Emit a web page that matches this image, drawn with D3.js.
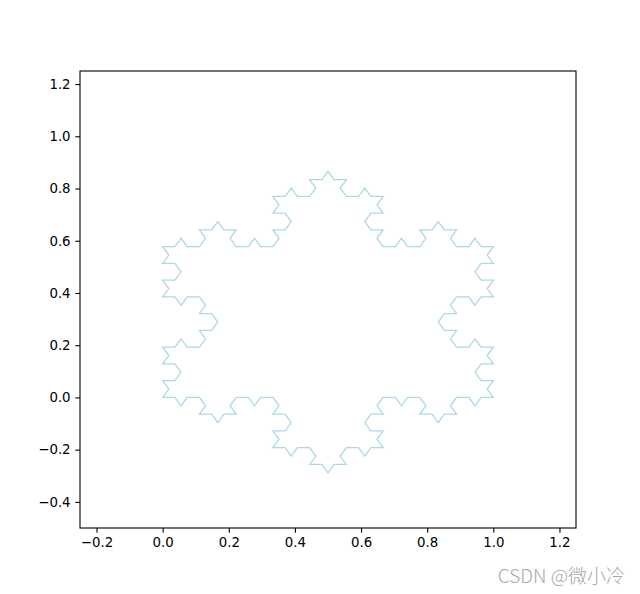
<!DOCTYPE html>
<html>
<head>
<meta charset="utf-8">
<script src="https://cdn.jsdelivr.net/npm/d3@7"></script>
<style>
  body { margin: 0; background: #fff; }
  svg { display: block; }
  .tick text { font-family: "DejaVu Sans", sans-serif; font-size: 13.33px; fill: #000; }
</style>
</head>
<body>
<div id="chart"></div>
<script>
// starting triangle (clockwise) and recursion depth of the Koch snowflake
const baseTriangle = [[0, 0], [0.5, Math.sqrt(3) / 2], [1, 0], [0, 0]];
const kochDepth = 3;
const xTicks = [-0.2, 0.0, 0.2, 0.4, 0.6, 0.8, 1.0, 1.2];
const yTicks = [-0.4, -0.2, 0.0, 0.2, 0.4, 0.6, 0.8, 1.0, 1.2];
const xDomain = [-0.25, 1.25];
const yDomain = [-0.5, 1.25];

function koch(a, b, n) {
    if (n === 0) return [a];
    const dx = (b[0] - a[0]) / 3, dy = (b[1] - a[1]) / 3;
    const p1 = [a[0] + dx, a[1] + dy];
    const p2 = [a[0] + 2 * dx, a[1] + 2 * dy];
    const c = Math.cos(Math.PI / 3), s = Math.sin(Math.PI / 3);
    const peak = [p1[0] + dx * c - dy * s, p1[1] + dx * s + dy * c];
    return [].concat(koch(a, p1, n - 1), koch(p1, peak, n - 1), koch(peak, p2, n - 1), koch(p2, b, n - 1));
}

let points = [];
for (let i = 0; i < baseTriangle.length - 1; i++) {
    points = points.concat(koch(baseTriangle[i], baseTriangle[i + 1], kochDepth));
}
points.push(baseTriangle[baseTriangle.length - 1]);

const width = 640, height = 594;
const margin = { top: 71, right: 64, bottom: 66, left: 80 };

const svg = d3.select("#chart").append("svg")
    .attr("width", width)
    .attr("height", height);

const x = d3.scaleLinear().domain(xDomain).range([margin.left, width - margin.right]);
const y = d3.scaleLinear().domain(yDomain).range([height - margin.bottom, margin.top]);

svg.append("path")
    .datum(points)
    .attr("fill", "none")
    .attr("stroke", "#add8e6")
    .attr("stroke-width", 1.3)
    .attr("stroke-linejoin", "miter")
    .attr("d", d3.line().x(d => x(d[0])).y(d => y(d[1])));

const fmt = d => d < 0 ? "\u2212" + Math.abs(d).toFixed(1) : d.toFixed(1);

const xAxis = svg.append("g")
    .attr("transform", `translate(0,${height - margin.bottom})`)
    .call(d3.axisBottom(x).tickValues(xTicks).tickFormat(fmt).tickSizeOuter(0).tickSize(4.7).tickPadding(4.7));
const yAxis = svg.append("g")
    .attr("transform", `translate(${margin.left},0)`)
    .call(d3.axisLeft(y).tickValues(yTicks).tickFormat(fmt).tickSizeOuter(0).tickSize(4.7).tickPadding(4.7));

[xAxis, yAxis].forEach(g => {
    g.select(".domain").remove();
    g.selectAll(".tick line").attr("stroke", "#000").attr("stroke-width", 1.1);
});

svg.append("rect")
    .attr("x", margin.left)
    .attr("y", margin.top)
    .attr("width", width - margin.left - margin.right)
    .attr("height", height - margin.top - margin.bottom)
    .attr("fill", "none")
    .attr("stroke", "#000")
    .attr("stroke-width", 1.1);

svg.append("text")
    .attr("x", 625)
    .attr("y", 583)
    .attr("text-anchor", "end")
    .attr("font-family", "'Noto Sans CJK SC', sans-serif")
    .attr("font-size", 19)
    .attr("font-weight", 300)
    .attr("fill", "#a8a8a8")
    .text("CSDN @微小冷");
</script>
</body>
</html>
